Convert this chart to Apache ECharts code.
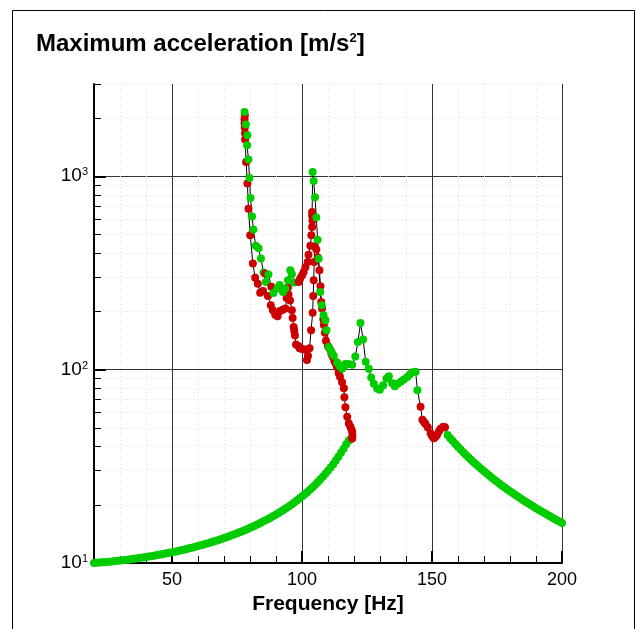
<!DOCTYPE html>
<html><head><meta charset="utf-8">
<script src="https://cdn.jsdelivr.net/npm/echarts@6/dist/echarts.min.js"></script>
<style>html,body{margin:0;padding:0;background:#fff}#c{width:636px;height:629px}</style>
</head><body><div id="c"></div>
<script>
// Path of the response curve, in continuation order. Stable points: 1 (green), unstable: 0 (red)
const pathFreq = [
  20,21,22,23,24,25,26,27,28,29,30,31,32,33,34,35,36,37,38,39,40,41,42,43,44,45,46,47,48,49,
  50,51,52,53,54,55,56,57,58,59,60,61,62,63,64,65,66,67,68,69,70,71,72,73,74,75,76,77,78,79,
  80,81,82,83,84,85,86,87,88,89,90,91,92,93,94,95,96,97,98,99,100,101,102,103,104,105,106,107,108,109,
  110,111,112,113,114,115,116,117,118,118.8,
  119.3,119.4,119.3,119.0,118.6,118.0,117.4,116.7,116.3,116.1,115.4,114.6,114.1,113.5,112.9,112.4,111.8,111.3,110.5,109.9,
  109.2,108.8,108.4,108.2,107.7,107.4,107.1,106.7,106.1,105.5,104.9,104.7,104.5,104.3,104.1,103.5,102.9,102.3,101.9,100.9,
  100.0,99.1,98.7,97.7,97.3,97.0,96.8,96.4,96.1,95.4,94.8,94.6,94.1,93.6,92.6,91.6,90.6,89.7,88.8,88.0,
  86.9,85.0,83.9,83.0,82.0,81.1,80.1,79.4,79.0,78.5,78.1,78.1,78.0,77.9,77.9,78.0,
  77.9,78.4,79.0,78.9,79.4,79.8,80.2,80.8,81.3,82.2,83.3,84.2,85.2,85.8,86.1,87.1,88.2,89.0,90.4,91.4,
  92.7,93.6,94.6,95.5,96.1,97.0,
  98.7,99.3,100.0,100.6,101.3,102.2,102.5,103.2,103.6,103.9,104.0,103.9,103.9,
  104.1,104.5,105.0,105.5,106.0,106.4,107.0,107.6,108.3,109.0,109.4,110.2,111.2,111.6,112.2,113.5,114.5,115.4,116.2,116.7,
  118.0,119.3,120.5,121.5,122.5,123.5,124.5,125.7,126.6,127.6,128.9,129.9,131.2,132.5,133.4,134.7,135.7,136.8,138.0,139.2,
  140.5,141.5,142.4,143.7,144.4,
  145.6,146.3,147.0,147.5,148.4,149.5,150.1,150.7,151.3,152.0,152.7,153.3,154.3,155.0,
  156,157,158,159,160,161,162,163,164,165,166,167,168,169,170,171,172,173,174,175,176,177,178,179,
  180,181,182,183,184,185,186,187,188,189,190,191,192,193,194,195,196,197,198,199,200
];
const pathAcc = [
  10.00,10.03,10.05,10.08,10.10,10.13,10.16,10.19,10.23,10.26,10.30,10.33,10.37,10.41,10.45,10.50,10.54,10.59,10.64,10.69,
  10.74,10.79,10.85,10.90,10.96,11.02,11.09,11.15,11.22,11.29,11.36,11.44,11.51,11.59,11.68,11.76,11.85,11.94,12.04,12.13,
  12.23,12.34,12.44,12.56,12.67,12.79,12.91,13.04,13.17,13.31,13.45,13.60,13.75,13.91,14.07,14.24,14.42,14.60,14.79,14.99,
  15.20,15.41,15.64,15.87,16.11,16.37,16.63,16.91,17.20,17.50,17.82,18.15,18.50,18.87,19.26,19.66,20.09,20.55,21.03,21.53,
  22.07,22.65,23.25,23.90,24.60,25.34,26.13,26.99,27.91,28.91,29.99,31.16,32.45,33.86,35.41,37.12,39.02,41.15,43.0,43.8,
  44.0,45.5,47.7,49.2,50.6,52.7,57,63.8,72,80,86,92,96,103,108,111,117,121,129,133,
  141,155,170,182,207,224,270,327,380,418,435,360,290,240,197,160,129,118,112,127,
  128,129,132,135,150,159,166,185,203,228,245,266,235,207,204,201,189,192,203,215,
  240,255,250,278,299,354,495,680,917,1186,1549,1667,1780,1880,1970,2064,
  2148,1850,1629,1445,1220,980,773,620,531,437,424,376,318,314,284,310,268,249,263,274,
  252,263,290,327,312,282,
  284,296,307,319,338,360,393,437,495,547,590,625,654,
  1052,946,780,612,470,375,252,215,191,180,160,131,125,121,118,109,104,101,104,107,
  107,106,117,139,174,143,110,101,91,84.5,79.8,78.8,83,90,92.5,85,82,84.5,86.5,89,
  91.6,94.5,97,97.5,78.3,
  64.3,55,53.5,52.3,50.2,46.8,45.2,44.2,44.8,46,48,49.4,50.6,50.3,
  45.86,44.22,42.70,41.26,39.91,38.63,37.43,36.30,35.22,34.20,33.23,32.31,31.44,30.60,29.81,29.05,28.32,27.63,26.96,26.32,25.71,25.12,24.56,24.02,
  23.50,23.00,22.51,22.05,21.60,21.16,20.74,20.34,19.95,19.57,19.20,18.85,18.50,18.17,17.85,17.53,17.23,16.94,16.65,16.37,16.10
];
const pathStable = [].concat(
  Array(100).fill(1),          // lower stable branch 20 -> 118.8 Hz
  Array(76).fill(0),           // unstable branch back to the 78 Hz peak
  [1,1,1,1,1,1,1,1,1,1,1,1,1,0,1,1,0,1,1,1, 1,1,1,1,1,1], // upper branch 78 -> 97 Hz
  Array(13).fill(0),           // unstable rise to 104 Hz peak
  Array(45).fill(1),           // stable branch 104 -> 144 Hz
  Array(14).fill(0),           // unstable 145 -> 155 Hz
  Array(45).fill(1)            // stable branch 156 -> 200 Hz
);

const xMajorTicks = [50, 100, 150, 200];
const xMinorTicks = [30, 40, 60, 70, 80, 90, 110, 120, 130, 140, 160, 170, 180, 190];
const yMajorTicks = [10, 100, 1000];
const yMinorTicks = [20, 30, 40, 50, 60, 70, 80, 90, 200, 300, 400, 500, 600, 700, 800, 900, 2000, 3000];

const GREEN = '#00cc00', RED = '#cc0000';
const FONT = 'Liberation Sans, Arial, sans-serif';

const pathData = pathFreq.map((f, i) => ({
  value: [f, pathAcc[i]],
  itemStyle: { color: pathStable[i] ? GREEN : RED }
}));

const chart = echarts.init(document.getElementById('c'), null, { renderer: 'canvas' });
chart.setOption({
  animation: false,
  backgroundColor: '#fff',
  title: {
    text: '{a|Maximum acceleration [m/s}{s|2}{a|]}',
    left: 36, top: 32, padding: 0,
    textStyle: {
      rich: {
        a: { fontSize: 24, fontWeight: 'bold', fontFamily: FONT, color: '#000' },
        s: { fontSize: 13, fontWeight: 'bold', fontFamily: FONT, color: '#000', verticalAlign: 'top' }
      }
    }
  },
  graphic: [{
    type: 'rect', shape: { x: 12.5, y: 10.5, width: 622, height: 640 },
    style: { fill: 'none', stroke: '#000', lineWidth: 1 }, silent: true, z: 0
  }],
  grid: { left: 94, right: 74, top: 84, bottom: 66, containLabel: false },
  xAxis: [{
    type: 'value', min: 20, max: 200, position: 'bottom',
    name: 'Frequency [Hz]', nameLocation: 'middle', nameGap: 19,
    nameTextStyle: { fontSize: 21, fontWeight: 'bold', fontFamily: FONT, color: '#000' },
    axisLine: { show: true, lineStyle: { color: '#000', width: 2 } },
    axisTick: { show: true, inside: true, length: 12, customValues: xMajorTicks, lineStyle: { color: '#000', width: 2 } },
    axisLabel: { show: true, customValues: xMajorTicks, margin: 8, fontSize: 18, fontFamily: FONT, color: '#000' },
    splitLine: { show: true, lineStyle: { color: '#333', width: 1, type: 'solid' } }
  }, {
    type: 'value', min: 20, max: 200, position: 'bottom',
    axisLine: { show: false },
    axisTick: { show: true, inside: true, length: 7, customValues: xMinorTicks, lineStyle: { color: '#000', width: 1 } },
    axisLabel: { show: false },
    splitLine: { show: true, lineStyle: { color: '#dcdcdc', width: 1, type: [1, 3] } }
  }],
  yAxis: [{
    type: 'log', logBase: 10, min: 10, max: 3000, position: 'left',
    axisLine: { show: true, lineStyle: { color: '#000', width: 2 } },
    axisTick: { show: true, inside: true, length: 12, customValues: yMajorTicks, lineStyle: { color: '#000', width: 2 } },
    axisLabel: {
      show: true, customValues: yMajorTicks, margin: 6,
      formatter: v => '{b|10}{s|' + Math.round(Math.log10(v)) + '}',
      rich: {
        b: { fontSize: 19, fontFamily: FONT, color: '#000' },
        s: { fontSize: 11, fontFamily: FONT, color: '#000', verticalAlign: 'top' }
      }
    },
    splitLine: { show: true, lineStyle: { color: '#333', width: 1, type: 'solid' } }
  }, {
    type: 'log', logBase: 10, min: 10, max: 3000, position: 'left',
    axisLine: { show: false },
    axisTick: { show: true, inside: true, length: 7, customValues: yMinorTicks, lineStyle: { color: '#000', width: 1 } },
    axisLabel: { show: false },
    splitLine: { show: true, lineStyle: { color: '#dcdcdc', width: 1, type: [1, 3] } }
  }],
  series: [{
    type: 'line',
    xAxisIndex: 0, yAxisIndex: 0,
    data: pathData,
    showSymbol: true, showAllSymbol: true,
    symbol: 'circle', symbolSize: 8,
    lineStyle: { color: '#000', width: 1 },
    itemStyle: { borderWidth: 0 },
    emphasis: { disabled: true },
    clip: false,
    z: 3
  }]
});
</script>
</body></html>
